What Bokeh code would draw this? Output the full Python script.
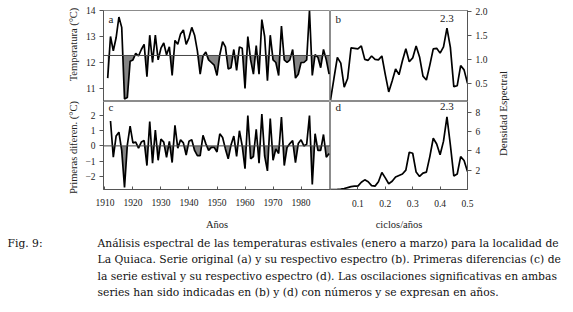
import numpy as np
from bokeh.plotting import figure
from bokeh.layouts import row, column
from bokeh.models import Range1d, FixedTicker, Label, Span
from bokeh.embed import file_html
from bokeh.resources import INLINE

# ---------------- data ----------------
years_a = list(range(1911, 1991))
temp_a = [11.4, 13.0, 12.45, 12.95, 13.75, 13.35, 10.6, 10.65, 12.05, 12.1,
          12.35, 12.25, 12.5, 12.7, 11.45, 13.05, 12.0, 13.05, 12.1, 12.55,
          12.75, 12.3, 12.6, 11.5, 12.85, 12.7, 13.1, 13.25, 12.7, 12.95,
          13.35, 13.05, 12.45, 11.55, 12.25, 12.4, 12.1, 12.0, 11.9, 11.5,
          12.3, 12.8, 12.6, 11.75, 11.8, 12.5, 11.7, 12.6, 12.55, 11.0,
          13.0, 12.1, 11.55, 12.65, 11.55, 13.65, 13.0, 11.3, 13.05, 12.1,
          12.0, 11.5, 13.4, 12.1, 12.0, 12.1, 12.5, 11.4, 11.55, 12.0,
          12.0, 12.1, 14.0, 11.5, 12.3, 12.2, 11.8, 12.5, 12.1, 11.55]
mean_a = 12.27

years_c = list(range(1912, 1991))
diff_c = [1.64, -0.75, 0.65, 0.9, -0.3, -2.75, 0.05, 1.3, 0.2, 0.25,
          -0.15, 0.25, 0.35, -1.3, 1.6, -1.15, 1.05, -0.95, 0.45, 0.25,
          -0.75, 0.3, -1.1, 1.35, -0.15, 0.4, 0.2, -0.6, 0.3, 0.4,
          -0.3, -0.65, -0.65, 0.7, 0.15, -0.3, -0.1, -0.1, -0.4, 0.8,
          0.55, -0.2, -0.85, 0.05, 0.65, -0.7, 1.0, 0.0, -1.5, 2.0,
          -0.85, -0.7, 1.1, -1.15, 2.1, -0.65, -1.65, 1.8, -0.95, -0.2,
          -0.5, 1.9, -1.3, -0.1, 0.15, 0.35, -1.1, 0.15, 0.4, 0.0,
          0.1, 2.0, -2.55, 0.8, -0.3, -0.3, 0.75, -0.75, -0.5]

freq = [0.0, 0.0125, 0.025, 0.0375, 0.05, 0.0625, 0.075, 0.0875, 0.1, 0.1125,
        0.125, 0.1375, 0.15, 0.1625, 0.175, 0.1875, 0.2, 0.2125, 0.225, 0.2375,
        0.25, 0.2625, 0.275, 0.2875, 0.3, 0.3125, 0.325, 0.3375, 0.35, 0.3625,
        0.375, 0.3875, 0.4, 0.4125, 0.425, 0.4375, 0.45, 0.4625, 0.475, 0.4875, 0.5]
spec_b = [0.15, 0.6, 1.04, 0.92, 0.42, 0.6, 1.24, 1.23, 1.22, 1.28,
          1.0, 0.98, 1.07, 1.0, 0.99, 1.07, 0.68, 0.32, 0.55, 0.8,
          0.68, 0.97, 1.22, 0.95, 1.03, 1.28, 1.05, 0.65, 0.57, 0.88,
          1.22, 1.23, 1.13, 1.26, 1.65, 1.25, 0.43, 0.45, 0.87, 0.78, 0.5]
spec_d = [0.0, 0.0, 0.02, 0.05, 0.1, 0.2, 0.3, 0.35, 0.35, 0.75,
          1.0, 0.8, 0.4, 0.35, 0.8, 1.75, 1.2, 0.6, 0.85, 1.3,
          1.45, 1.6, 2.0, 3.85, 3.75, 1.8, 1.35, 1.7, 1.8, 3.4,
          5.3, 4.7, 3.6, 5.0, 7.5, 4.6, 1.4, 1.6, 3.4, 3.0, 1.85]

year_ticks = [1910, 1920, 1930, 1940, 1950, 1960, 1970, 1980]
temp_ticks = [11, 12, 13, 14]
diff_ticks = [-2, -1, 0, 1, 2]
freq_ticks = [0.1, 0.2, 0.3, 0.4, 0.5]
specb_ticks = [0.5, 1.0, 1.5, 2.0]
specd_ticks = [2, 4, 6, 8]
panel_letters = ["a", "b", "c", "d"]
peak_label = "2.3"

xlabel_left = "Años"
xlabel_right = "ciclos/años"
ylabel_a = "Temperatura (°C)"
ylabel_c = "Primeras diferen. (°C)"
ylabel_right = "Densidad Espectral"
caption_tag = "Fig. 9:"
caption_lines = [
    "Análisis espectral de las temperaturas estivales (enero a marzo) para la localidad de",
    "La Quiaca. Serie original (a) y su respectivo espectro (b). Primeras diferencias (c) de",
    "la serie estival y su respectivo espectro (d).  Las oscilaciones significativas en ambas",
    "series han sido indicadas en (b) y (d) con números y se expresan en años.",
]

FONT = "Liberation Serif"
CAPFONT = "DejaVu Serif"
CAPSIZE = "10.75px"
TXT = "#222222"
FRAME = "#8c8c8c"
FILL = "#858585"


def below_fill(x, y, ref):
    xs, ys = [x[0]], [y[0]]
    for i in range(1, len(x)):
        y0, y1 = y[i - 1], y[i]
        if (y0 - ref) * (y1 - ref) < 0:
            t = (ref - y0) / (y1 - y0)
            xs.append(x[i - 1] + t * (x[i] - x[i - 1]))
            ys.append(ref)
        xs.append(x[i])
        ys.append(y[i])
    return np.array(xs, float), np.minimum(np.array(ys, float), ref)


def base(width, height, xr, yr, xloc, yloc, **kw):
    p = figure(width=width, height=height, x_range=xr, y_range=yr,
               x_axis_location=xloc, y_axis_location=yloc,
               toolbar_location=None, output_backend="svg", **kw)
    p.grid.visible = False
    p.outline_line_color = FRAME
    p.outline_line_width = 1
    p.background_fill_color = "white"
    p.border_fill_color = "white"
    for ax in p.axis:
        ax.axis_line_color = "#555555"
        ax.major_tick_line_color = "#555555"
        ax.minor_tick_line_color = None
        ax.major_label_text_font = FONT
        ax.major_label_text_font_size = "9.5px"
        ax.major_label_text_color = TXT
        ax.axis_label_text_font = FONT
        ax.axis_label_text_font_size = "10.5px"
        ax.axis_label_text_font_style = "normal"
        ax.axis_label_text_color = TXT
    return p


def blank(width, height):
    p = figure(width=width, height=height, x_range=Range1d(0, 1), y_range=Range1d(0, 1),
               x_axis_location=None, y_axis_location=None, toolbar_location=None,
               output_backend="svg", min_border=0)
    p.grid.visible = False
    p.outline_line_color = None
    return p


def letter(p, txt):
    p.add_layout(Label(x=5, y=83, x_units="screen", y_units="screen", text=txt,
                       text_font=FONT, text_font_size="11px", text_color=TXT,
                       text_baseline="middle", text_align="left"))


# ---------------- panel a ----------------
fa = base(248, 101, Range1d(1909.5, 1990.5), Range1d(10.5, 14.0), None, "left",
          min_border_left=20, min_border_right=0, min_border_top=10, min_border_bottom=0)
xa, ya = below_fill(years_a, temp_a, mean_a)
fa.varea(x=xa, y1=ya, y2=mean_a, fill_color=FILL)
fa.add_layout(Span(location=mean_a, dimension="width", line_color="#444444", line_width=1))
fa.line(years_a, temp_a, line_color="black", line_width=1.7)
fa.yaxis.ticker = FixedTicker(ticks=temp_ticks)
fa.yaxis.major_tick_out = 4
fa.yaxis.major_tick_in = 0
fa.yaxis.major_label_standoff = 4
letter(fa, panel_letters[0])

# ---------------- panel b ----------------
fb = base(162, 101, Range1d(0, 0.5), Range1d(0.12, 2.02), None, "right",
          min_border_left=0, min_border_right=25, min_border_top=10, min_border_bottom=0)
fb.line(freq, spec_b, line_color="black", line_width=1.7)
fb.yaxis.ticker = FixedTicker(ticks=specb_ticks)
fb.yaxis.major_label_overrides = {t: f"{t:.1f}" for t in specb_ticks}
fb.yaxis.major_tick_out = 4
fb.yaxis.major_tick_in = 0
fb.yaxis.major_label_standoff = 4
letter(fb, panel_letters[1])
ib = int(np.argmax(spec_b))
fb.add_layout(Label(x=freq[ib], y=83, y_units="screen", text=peak_label, text_font=FONT,
                    text_font_size="11px", text_color=TXT, text_align="center",
                    text_baseline="middle"))

# ---------------- panel c ----------------
fc = base(248, 131, Range1d(1909.5, 1990.5), Range1d(-2.88, 2.93), "below", "left",
          min_border_left=20, min_border_right=0, min_border_top=0, min_border_bottom=40)
xc, yc = below_fill(years_c, diff_c, 0.0)
fc.varea(x=xc, y1=yc, y2=0.0, fill_color=FILL)
fc.add_layout(Span(location=0, dimension="width", line_color="#444444", line_width=1))
fc.line(years_c, diff_c, line_color="black", line_width=1.7)
fc.yaxis.ticker = FixedTicker(ticks=diff_ticks)
fc.yaxis.major_tick_out = 4
fc.yaxis.major_tick_in = 0
fc.yaxis.major_label_standoff = 4
fc.xaxis.ticker = FixedTicker(ticks=year_ticks)
fc.xaxis.major_tick_out = 0
fc.xaxis.major_tick_in = 3
fc.xaxis.major_label_standoff = 9
fc.xaxis.axis_label = xlabel_left
fc.xaxis.axis_label_standoff = 10
letter(fc, panel_letters[2])

# ---------------- panel d ----------------
fd = base(162, 131, Range1d(0, 0.5), Range1d(0, 9.1), "below", "right",
          min_border_left=0, min_border_right=25, min_border_top=0, min_border_bottom=40)
fd.line(freq, spec_d, line_color="black", line_width=1.7)
fd.yaxis.ticker = FixedTicker(ticks=specd_ticks)
fd.yaxis.major_tick_out = 4
fd.yaxis.major_tick_in = 0
fd.yaxis.major_label_standoff = 4
fd.xaxis.ticker = FixedTicker(ticks=freq_ticks)
fd.xaxis.major_label_overrides = {t: f"{t:.1f}" for t in freq_ticks}
fd.xaxis.major_tick_out = 0
fd.xaxis.major_tick_in = 3
fd.xaxis.major_label_standoff = 10
fd.xaxis.axis_label = xlabel_right
fd.xaxis.axis_label_standoff = 9
letter(fd, panel_letters[3])
idd = int(np.argmax(spec_d))
fd.add_layout(Label(x=freq[idd], y=83, y_units="screen", text=peak_label, text_font=FONT,
                    text_font_size="11px", text_color=TXT, text_align="center",
                    text_baseline="middle"))

# ---------------- side labels ----------------
fleft = blank(82, 232)
fleft.add_layout(Label(x=73, y=188, x_units="screen", y_units="screen", text=ylabel_a,
                       angle=np.pi / 2, text_font=FONT, text_font_size="10.5px",
                       text_color=TXT, text_align="center", text_baseline="middle"))
fleft.add_layout(Label(x=73, y=85, x_units="screen", y_units="screen", text=ylabel_c,
                       angle=np.pi / 2, text_font=FONT, text_font_size="10.5px",
                       text_color=TXT, text_align="center", text_baseline="middle"))

flab = blank(70, 232)
flab.add_layout(Label(x=10, y=119, x_units="screen", y_units="screen", text=ylabel_right,
                      angle=np.pi / 2, text_font=FONT, text_font_size="11px",
                      text_color=TXT, text_align="center", text_baseline="middle"))

# ---------------- caption ----------------
fcap = blank(573, 79)
fcap.add_layout(Label(x=7, y=68, x_units="screen", y_units="screen", text=caption_tag,
                      text_font=CAPFONT, text_font_size=CAPSIZE, text_color="#111111",
                      text_baseline="middle"))
for i, line in enumerate(caption_lines):
    fcap.add_layout(Label(x=97, y=68 - 16.4 * i, x_units="screen", y_units="screen",
                          text=line, text_font=CAPFONT, text_font_size=CAPSIZE,
                          text_color="#111111", text_baseline="middle"))

layout = column(row(fleft, column(row(fa, fb), row(fc, fd)), flab), fcap)
open("out.html", "w").write(file_html(layout, INLINE))
